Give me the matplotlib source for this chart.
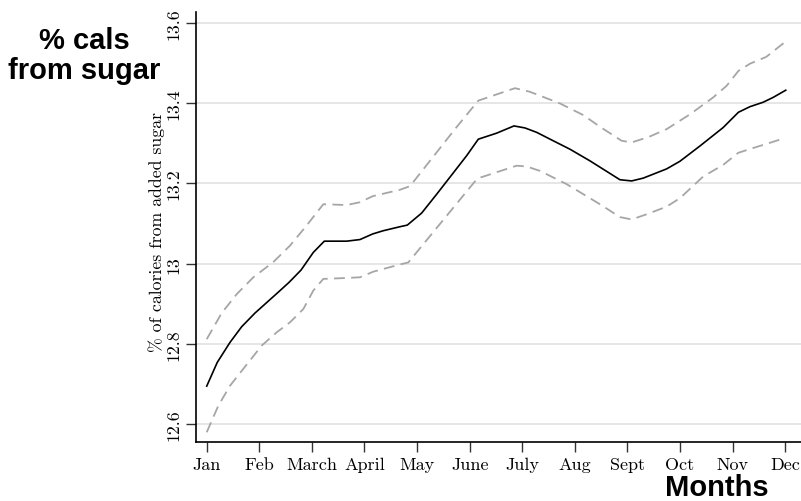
import matplotlib
matplotlib.use("Agg")
from matplotlib import pyplot as plt

months = ["Jan", "Feb", "March", "April", "May", "June", "July", "Aug", "Sept", "Oct", "Nov", "Dec"]
y_ticks = [12.6, 12.8, 13.0, 13.2, 13.4, 13.6]
y_tick_labels = ["12.6", "12.8", "13", "13.2", "13.4", "13.6"]

# estimate (month position, value)
mid_x = [1.0, 1.2, 1.443, 1.665, 1.918, 2.361, 2.57, 2.793, 3.027, 3.236, 3.662, 3.914,
         4.156, 4.357, 4.675, 4.814, 5.087, 5.373, 5.688, 5.943, 6.164, 6.513, 6.842,
         7.051, 7.274, 7.589, 7.907, 8.287, 8.857, 9.08, 9.3, 9.745, 9.998, 10.378,
         10.82, 11.11, 11.33, 11.58, 11.77, 12.01]
mid_y = [12.695, 12.754, 12.804, 12.843, 12.877, 12.929, 12.954, 12.984, 13.028, 13.056,
         13.056, 13.060, 13.074, 13.082, 13.092, 13.096, 13.126, 13.173, 13.226, 13.269,
         13.310, 13.325, 13.343, 13.338, 13.327, 13.306, 13.285, 13.256, 13.209, 13.206,
         13.213, 13.236, 13.255, 13.293, 13.339, 13.377, 13.391, 13.402, 13.414, 13.432]

hi_x = [1.0, 1.285, 1.57, 1.886, 2.266, 2.584, 2.869, 3.217, 3.662, 3.914, 4.156, 4.675,
        4.865, 5.75, 6.164, 6.861, 7.146, 7.717, 8.16, 8.477, 8.89, 9.08, 9.395, 9.745,
        10.19, 10.63, 10.886, 11.11, 11.33, 11.64, 11.995]
hi_y = [12.812, 12.877, 12.924, 12.966, 13.004, 13.045, 13.090, 13.148, 13.146, 13.153,
        13.168, 13.184, 13.193, 13.340, 13.406, 13.437, 13.428, 13.399, 13.370, 13.341,
        13.306, 13.302, 13.315, 13.335, 13.372, 13.414, 13.443, 13.480, 13.498, 13.515,
        13.552]

lo_x = [1.0, 1.22, 1.443, 1.696, 2.046, 2.331, 2.584, 2.837, 3.027, 3.217, 3.597, 3.914,
        4.167, 4.675, 4.833, 6.145, 6.894, 7.084, 7.337, 7.844, 8.477, 8.857, 9.08, 9.365,
        9.745, 9.998, 10.44, 10.82, 11.106, 11.39, 11.71, 11.995]
lo_y = [12.580, 12.646, 12.696, 12.738, 12.796, 12.829, 12.854, 12.887, 12.933, 12.962,
        12.964, 12.966, 12.980, 12.998, 13.003, 13.212, 13.244, 13.242, 13.231, 13.198,
        13.148, 13.116, 13.110, 13.123, 13.142, 13.163, 13.217, 13.246, 13.276, 13.288,
        13.301, 13.313]

fig = plt.figure(figsize=(8.01, 5.02), dpi=100)
ax = fig.add_axes([0.2443, 0.1169, 0.7557, 0.8566])

for yt in y_ticks:
    ax.axhline(yt, color="#e6e6e6", lw=1.4, zorder=0)

ax.plot(hi_x, hi_y, color="#a6a6a6", lw=1.3, dashes=(6, 3.5))
ax.plot(lo_x, lo_y, color="#a6a6a6", lw=1.3, dashes=(6, 3.5))
ax.plot(mid_x, mid_y, color="black", lw=1.2)

ax.set_xlim(0.79, 12.30)
ax.set_ylim(12.555, 13.626)
ax.spines["top"].set_visible(False)
ax.spines["right"].set_visible(False)
for s in ["left", "bottom"]:
    ax.spines[s].set_linewidth(1.2)

ax.set_xticks(range(1, 13))
ax.set_xticklabels(months, family="cmr10", fontsize=13)
ax.set_yticks(y_ticks)
ax.set_yticklabels(y_tick_labels, family="cmr10", fontsize=12.8, rotation=90, va="center")
ax.tick_params(axis="both", direction="out", length=7, width=1.0, color="#333333")
ax.tick_params(axis="x", pad=3)
ax.tick_params(axis="y", pad=3)

fig.text(156.7 / 801, 1 - 232 / 502, "% of calories from added sugar", family="cmr10",
         fontsize=12.8, rotation=90, ha="center", va="center")

fig.text(84 / 801, 1 - 56 / 502, "% cals\nfrom sugar", family="Liberation Sans",
         fontweight="bold", fontsize=21, ha="center", va="center", linespacing=1.05)
fig.text(717 / 801, 1 - 488 / 502, "Months", family="Liberation Sans",
         fontweight="bold", fontsize=21, ha="center", va="center")

fig.savefig("out.png", dpi=100)
